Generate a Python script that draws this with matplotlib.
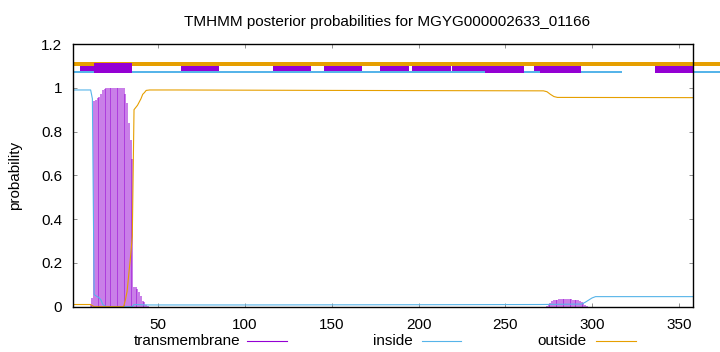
import numpy as np
import matplotlib.pyplot as plt

plt.rcParams['font.family'] = ['Liberation Sans', 'DejaVu Sans']
plt.rcParams['font.size'] = 11

seq_len = 358
title = "TMHMM posterior probabilities for MGYG000002633_01166"

# transmembrane posterior, per residue (residues not listed are ~0)
tm_pos = list(range(11, 45)) + list(range(274, 298))
tm_prob = [0.01, 0.04, 0.94, 0.945, 0.952, 0.958, 0.97, 0.99, 0.995, 1.0,
           1.0, 1.0, 1.0, 1.0, 1.0, 1.0, 1.0, 1.0, 1.0, 0.998,
           0.97, 0.93, 0.84, 0.76, 0.675, 0.09, 0.088, 0.08, 0.065, 0.05,
           0.027, 0.02, 0.01, 0.005,
           0.004, 0.01, 0.018, 0.025, 0.029, 0.031, 0.032, 0.033, 0.033, 0.033,
           0.033, 0.033, 0.033, 0.033, 0.033, 0.032, 0.032, 0.031, 0.03, 0.027,
           0.022, 0.015, 0.008, 0.003]

# inside posterior
inside_x = [1, 11, 12, 13, 14, 15, 16, 17, 18, 19, 20, 35, 36, 44, 100, 200,
            270, 294, 296, 298, 300, 302, 358]
inside_y = [0.99, 0.99, 0.95, 0.055, 0.05, 0.045, 0.04, 0.03, 0.01, 0.005, 0.0,
            0.0, 0.01, 0.008, 0.008, 0.009, 0.01, 0.012, 0.02, 0.03, 0.04,
            0.046, 0.046]

# outside posterior
outside_x = [1, 11, 12, 13, 30, 31, 32, 33, 34, 35, 36, 37, 38, 39, 40, 41, 42,
             43, 45, 60, 150, 272, 274, 276, 278, 280, 358]
outside_y = [0.01, 0.01, 0.005, 0.0, 0.0, 0.03, 0.07, 0.15, 0.23, 0.32, 0.9,
             0.91, 0.92, 0.935, 0.95, 0.97, 0.978, 0.988, 0.99, 0.99, 0.988,
             0.986, 0.982, 0.97, 0.96, 0.956, 0.955]

# predicted topology strips along the top
top_outside = [(1, 374)]
top_inside = [(1, 238.5), (261, 270), (293.5, 317.5), (358, 374)]
top_tm_thin = [(5, 13), (63, 85), (116, 138), (145.5, 167.5), (177.5, 194.5),
               (196.5, 218.5), (219.5, 261), (266.5, 293.5), (336.5, 358)]
top_tm_low = [(238.5, 261), (270, 293.5), (336.5, 358)]
top_tm_big = [(13, 35)]

c_tm = '#9400d3'
c_in = '#56b4e9'
c_out = '#e69f00'

fig = plt.figure(figsize=(7.2, 3.52), dpi=100)
ax = fig.add_axes([73.3 / 720, 1 - 306.7 / 352, 619.4 / 720, 262.7 / 352])

ax.vlines(tm_pos, 0, tm_prob, color=c_tm, lw=1.2, alpha=0.6)
ax.plot(inside_x, inside_y, color=c_in, lw=0.8)
ax.plot(outside_x, outside_y, color=c_out, lw=0.8)

def strips(spans, y0, y1, color):
    ax.broken_barh([(a, b - a) for a, b in spans], (y0, y1 - y0),
                   facecolor=color, edgecolor='none', clip_on=False)

strips(top_outside, 1.101, 1.119, c_out)
strips(top_inside, 1.066, 1.077, c_in)
strips(top_tm_thin, 1.077, 1.101, c_tm)
strips(top_tm_low, 1.066, 1.077, c_tm)
strips(top_tm_big, 1.066, 1.115, c_tm)

ax.set_xlim(1, seq_len)
ax.set_ylim(0, 1.2)
ax.set_xticks([50, 100, 150, 200, 250, 300, 350])
ax.set_yticks([0, 0.2, 0.4, 0.6, 0.8, 1.0, 1.2])
ax.set_yticklabels(['0', '0.2', '0.4', '0.6', '0.8', '1', '1.2'])
ax.tick_params(direction='in', length=3, width=0.6, color='#808080',
               top=True, right=True, pad=8)
for s in ax.spines.values():
    s.set_linewidth(1.0)

fig.text(386.7 / 720, 1 - 21.7 / 352, title, ha='center', va='center')
fig.text(15 / 720, 1 - 175 / 352, 'probability', rotation=90,
         ha='center', va='center')

# key below the plot
key = [('transmembrane', 240, 247, 287, c_tm),
       ('inside', 413, 422, 461, c_in),
       ('outside', 587, 596, 636, c_out)]
ky = 1 - 341 / 352
for label, xt, x0, x1, col in key:
    fig.text(xt / 720, ky, label, ha='right', va='center')
    fig.add_artist(plt.Line2D([x0 / 720, x1 / 720], [ky, ky], color=col, lw=0.8))

fig.savefig('out.png', dpi=100)
